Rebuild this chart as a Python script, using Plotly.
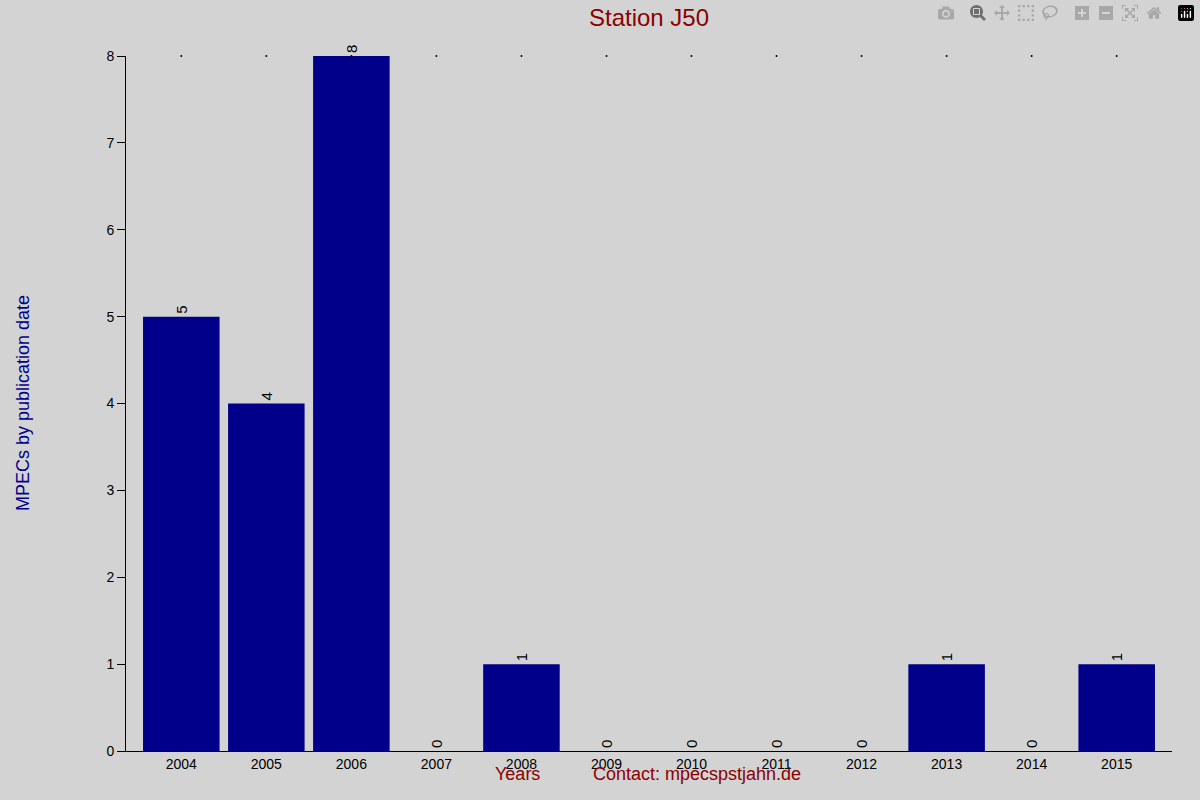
import plotly.graph_objects as go

years = ["2004","2005","2006","2007","2008","2009","2010","2011","2012","2013","2014","2015"]
counts = [5,4,8,0,1,0,0,0,0,1,0,1]
yticks = [0,1,2,3,4,5,6,7,8]

L, R, T, B = 126, 28, 56, 49
pw, ph = 1200-L-R, 800-T-B
def px(x): return (x-L)/pw
def py(y): return (800-B-y)/ph

fig = go.Figure(go.Bar(
    x=years, y=counts, marker_color="#00008B", marker_line_width=0,
    text=[str(c) for c in counts], textposition="outside", textangle=-90,
    textfont=dict(family="Liberation Sans, Arial", size=15, color="black"),
    cliponaxis=False, width=0.9))

fig.add_trace(go.Scatter(x=years, y=[8]*len(years), mode="markers",
                         marker=dict(size=2, color="black"), hoverinfo="skip", cliponaxis=False))

fig.update_layout(
    width=1200, height=800, paper_bgcolor="#d3d3d3", plot_bgcolor="#d3d3d3",
    margin=dict(l=L, r=R, t=T, b=B, autoexpand=False),
    font=dict(family="Liberation Sans, Arial", size=14, color="black"),
    title=dict(text="Station J50", x=px(649), xref="paper", xanchor="center", y=1-18/800, yanchor="middle",
               font=dict(size=24, color="#8B0000")),
    showlegend=False, bargap=0.1,
    xaxis=dict(type="category", showgrid=False, showline=True, linecolor="black",
               ticks="", zeroline=False, automargin=False),
    yaxis=dict(range=[0,8], tickvals=yticks, showgrid=False, showline=True, linecolor="black",
               ticks="outside", ticklen=8, tickcolor="black", zeroline=False, automargin=False),
    annotations=[
        dict(text="Years", x=px(517), y=py(786), xref="paper", yref="paper", showarrow=False,
             font=dict(size=18, color="#8B0000")),
        dict(text="Contact: mpecspstjahn.de", x=px(697), y=py(786), xref="paper", yref="paper", showarrow=False,
             font=dict(size=18, color="#8B0000")),
        dict(text="MPECs by publication date", x=px(11), y=py(403), xref="paper", yref="paper", showarrow=False,
             textangle=-90, font=dict(size=18, color="#00008B")),
    ])
fig.write_html("out.html", post_script="document.body.style.margin='0';")
